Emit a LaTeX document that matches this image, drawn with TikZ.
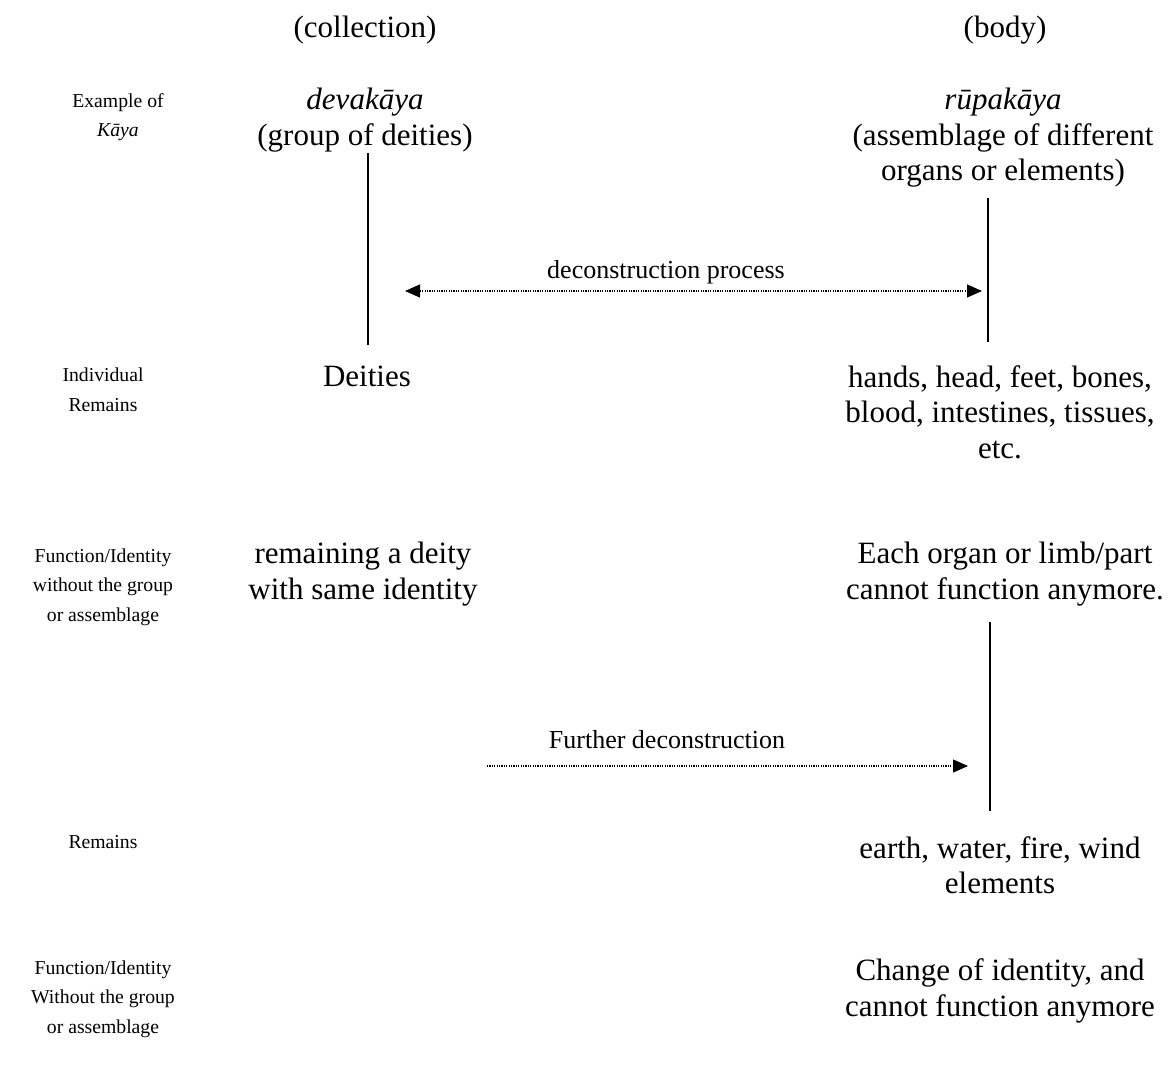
\documentclass[tikz,border=0pt]{standalone}
\usepackage{fontspec}
\setmainfont{Liberation Serif}
\usetikzlibrary{arrows.meta}
\tikzset{
  big/.style={align=center, inner sep=0pt, font=\fontsize{31}{35.5}\selectfont},
  small/.style={align=center, inner sep=0pt, font=\fontsize{19.7}{29.5}\selectfont},
  arrlab/.style={inner sep=0pt, anchor=base, font=\fontsize{26}{30}\selectfont},
  vline/.style={line width=1.6pt},
  dotarrow/.style={line width=1.2pt, dash pattern=on 1.2pt off 1.2pt, -{Triangle[length=15pt,width=13pt]}},
  dotarrow2/.style={line width=1.2pt, dash pattern=on 1.2pt off 1.2pt, {Triangle[length=15pt,width=13pt]}-{Triangle[length=15pt,width=13pt]}},
}
\begin{document}
\begin{tikzpicture}[x=1pt,y=-1pt]
\useasboundingbox (0,0) rectangle (1170,1070);
% headings
\node[big] (coll) at (365,30) {(collection)};
\node[big] (body) at (1005,30) {(body)};
% row 1
\node[small] (ex) at (118,117) {Example of\\\textit{Kāya}};
\node[big] (deva) at (365,120) {\textit{devakāya}\\(group of deities)};
\node[big] (rupa) at (1003,138) {\textit{rūpakāya}\\(assemblage of different\\organs or elements)};
% row 2
\node[small] (ind) at (103,390) {Individual\\Remains};
\node[big] (deities) at (367,376) {Deities};
\node[big] (hands) at (1000,412) {hands, head, feet, bones,\\blood, intestines, tissues,\\etc.};
% row 3
\node[small] (fi1) at (103,587) {Function/Identity\\without the group\\or assemblage};
\node[big] (rem) at (363,574) {remaining a deity\\with same identity};
\node[big] (each) at (1005,574) {Each organ or limb/part\\cannot function anymore.};
% row 4
\node[small] (remains) at (103,842) {Remains};
\node[big] (earth) at (1000,865) {earth, water, fire, wind\\elements};
% row 5
\node[small] (fi2) at (103,999) {Function/Identity\\Without the group\\or assemblage};
\node[big] (change) at (1000,991) {Change of identity, and\\cannot function anymore};
% vertical lines
\coordinate (l1a) at (368,153);
\coordinate (l1b) at (368,345);
\coordinate (r1a) at (988,198);
\coordinate (r1b) at (988,342);
\coordinate (r2a) at (990,622);
\coordinate (r2b) at (990,811);
\draw[vline] (l1a) -- (l1b);
\draw[vline] (r1a) -- (r1b);
\draw[vline] (r2a) -- (r2b);
% arrows
\coordinate (a1s) at (405,291);
\coordinate (a1e) at (982,291);
\draw[dotarrow2] (a1s) -- (a1e);
\node[arrlab] (dlab) at (666,278) {deconstruction process};
\coordinate (a2s) at (487,766);
\coordinate (a2e) at (968,766);
\draw[dotarrow] (a2s) -- (a2e);
\node[arrlab] (flab) at (667,748) {Further deconstruction};
\end{tikzpicture}
\end{document}
